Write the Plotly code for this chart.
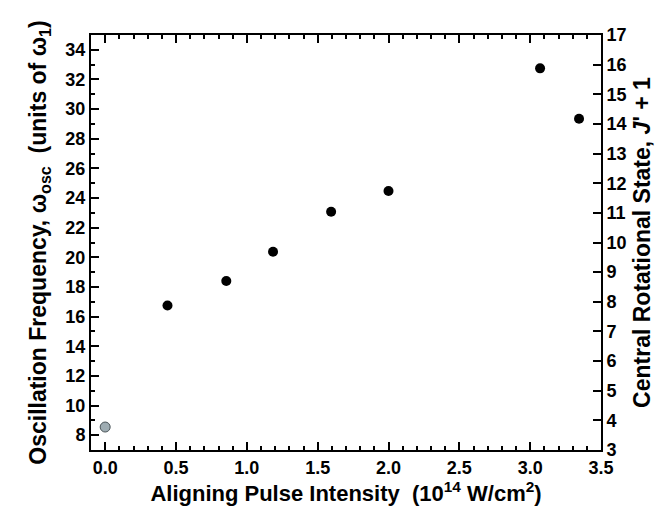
import plotly.graph_objects as go

# Data
intensity_ref = [0.0]
omega_ref = [8.55]
intensity = [0.44, 0.855, 1.185, 1.595, 2.0, 3.07, 3.345]
omega = [16.75, 18.4, 20.38, 23.08, 24.48, 32.75, 29.35]

x_ticks = [0.0, 0.5, 1.0, 1.5, 2.0, 2.5, 3.0, 3.5]
y_left_ticks = list(range(8, 35, 2))
y_right_ticks = list(range(3, 18))

FONT = "Liberation Sans, Arial, sans-serif"

fig = go.Figure()
fig.add_trace(go.Scatter(
    x=intensity_ref, y=omega_ref, mode="markers",
    marker=dict(size=10, color="#9eacb2", line=dict(color="#4a5458", width=1)),
    showlegend=False, hoverinfo="skip"))
fig.add_trace(go.Scatter(
    x=intensity, y=omega, mode="markers",
    marker=dict(size=10, color="black"),
    showlegend=False))

tickfont = dict(family=FONT, size=18, color="black", weight="bold")
titlefont = dict(family=FONT, size=22, color="black", weight="bold")
ltitlefont = dict(family=FONT, size=23, color="black", weight="bold")
rtitlefont = dict(family=FONT, size=23, color="black", weight="bold")

fig.update_layout(
    width=668, height=506,
    margin=dict(l=83, r=75, t=27, b=64),
    paper_bgcolor="white", plot_bgcolor="white",
    xaxis=dict(
        range=[-0.1, 3.5], tickvals=x_ticks, ticktext=[f"{v:.1f}" for v in x_ticks],
        ticks="inside", ticklen=8, tickwidth=2, tickcolor="black",
        minor=dict(dtick=0.1, tick0=0, ticks="inside", ticklen=4, tickwidth=1.5, tickcolor="black"),
        showline=True, linecolor="black", linewidth=2, mirror="ticks",
        showgrid=False, zeroline=False, tickfont=tickfont,
        title=dict(text="Aligning Pulse Intensity  (10<sup>14</sup> W/cm<sup>2</sup>)",
                   font=titlefont, standoff=4),
    ),
    yaxis=dict(
        range=[7, 35], tickvals=y_left_ticks,
        ticks="inside", ticklen=8, tickwidth=2, tickcolor="black",
        minor=dict(dtick=1, tick0=0, ticks="inside", ticklen=4, tickwidth=1.5, tickcolor="black"),
        showline=True, linecolor="black", linewidth=2,
        showgrid=False, zeroline=False, tickfont=tickfont,
        title=dict(text="Oscillation Frequency, ω<sub>osc</sub>  (units of ω<sub>1</sub>)",
                   font=ltitlefont, standoff=12),
    ),
    yaxis2=dict(
        overlaying="y", side="right", range=[3, 17], tickvals=y_right_ticks,
        ticks="inside", ticklen=8, tickwidth=2, tickcolor="black",
        showline=True, linecolor="black", linewidth=2,
        showgrid=False, zeroline=False, tickfont=tickfont,
        title=dict(text="Central Rotational State, <i>J</i>' + 1",
                   font=rtitlefont, standoff=8),
    ),
)
# invisible trace to activate the right axis (J'+1 = (omega-1)/2)
fig.add_trace(go.Scatter(x=intensity, y=[(w - 1) / 2 for w in omega], yaxis="y2",
                         mode="markers", marker=dict(opacity=0), showlegend=False,
                         hoverinfo="skip"))

fig.write_html("out.html")
